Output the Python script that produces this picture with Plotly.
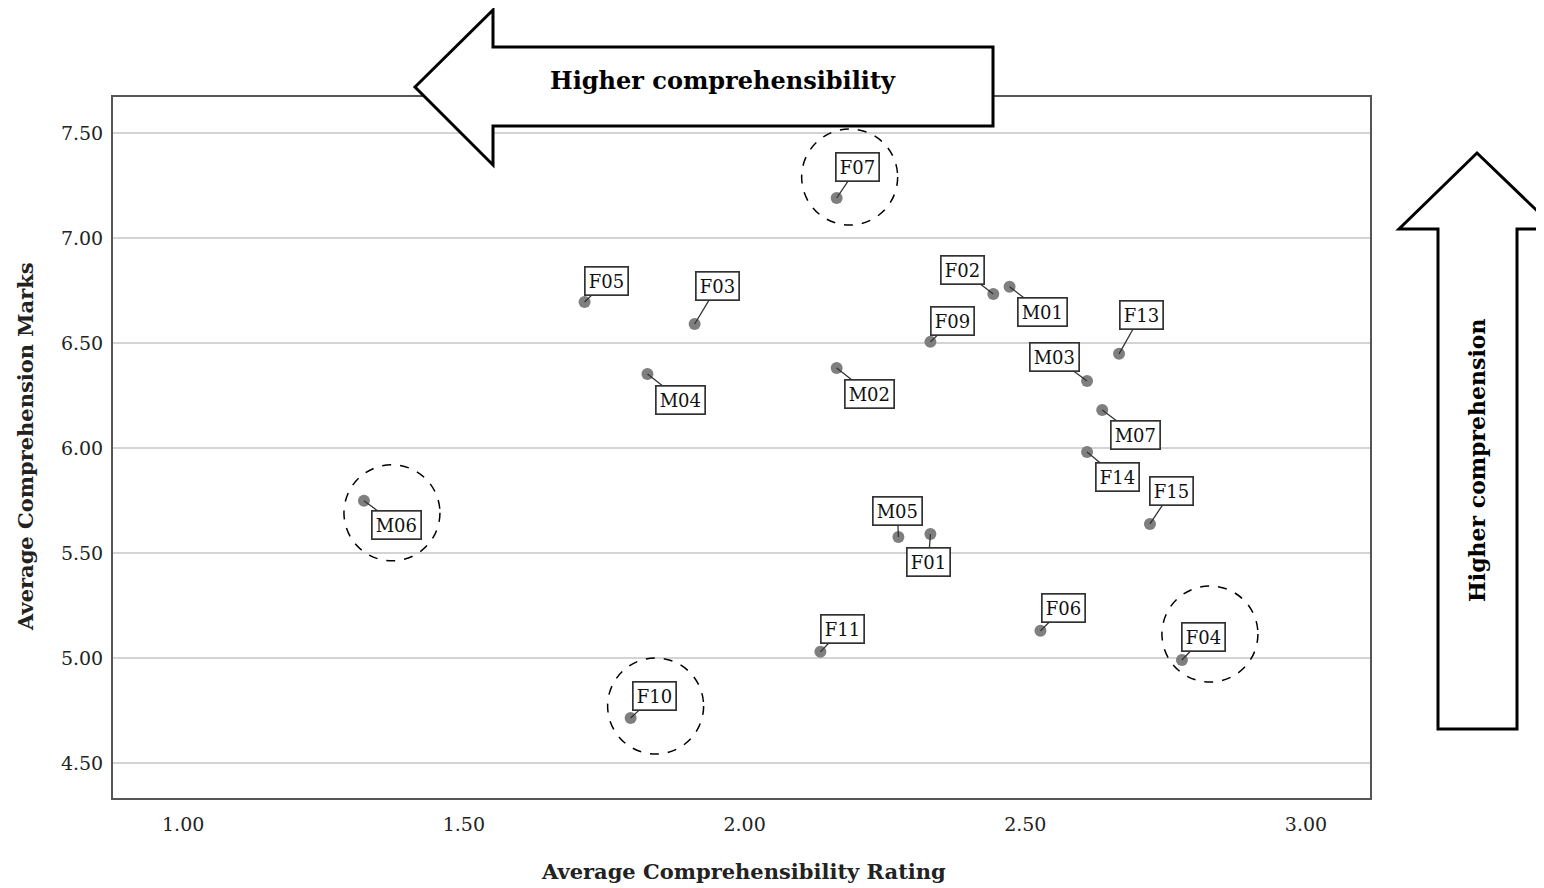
import plotly.graph_objects as go

# ---- data ----
participants = ["F07", "F05", "F03", "M04", "M02", "F09", "F02", "M01", "F13", "M03",
                "M07", "F14", "F15", "M06", "M05", "F01", "F06", "F04", "F11", "F10"]
rating = [2.164, 1.715, 1.911, 1.827, 2.164, 2.331, 2.443, 2.472, 2.667, 2.610,
          2.637, 2.610, 2.722, 1.322, 2.274, 2.331, 2.527, 2.779, 2.135, 1.797]
marks = [7.19, 6.695, 6.59, 6.352, 6.381, 6.505, 6.733, 6.767, 6.448, 6.319,
         6.181, 5.981, 5.638, 5.748, 5.576, 5.590, 5.129, 4.990, 5.029, 4.714]
x_ticks = [1.0, 1.5, 2.0, 2.5, 3.0]
y_ticks = [4.5, 5.0, 5.5, 6.0, 6.5, 7.0, 7.5]
highlighted = ["F07", "M06", "F10", "F04"]

# label offsets (pixels, screen coords: +x right, +y down)
label_off = {
    "F07": (21, -31), "F05": (22, -21), "F03": (23, -38), "M04": (33, 26),
    "M02": (33, 26), "F09": (22, -21), "F02": (-31, -24), "M01": (33, 25),
    "F13": (22, -39), "M03": (-33, -24), "M07": (33, 25), "F14": (30, 25),
    "F15": (22, -33), "M06": (33, 24), "M05": (-1, -26), "F01": (-2, 28),
    "F06": (23, -23), "F04": (22, -23), "F11": (22, -23), "F10": (24, -22),
}
# dashed circle centre offsets from point (pixels, screen coords)
circle_off = {"F07": (13, -21), "M06": (28, 12), "F10": (25, -12), "F04": (28, -26)}
R = 48

# the page body adds an 8px margin; compensate
OFF = 8
W, H = 1544 - OFF, 888 - OFF
L, RT, T, B = 113 - OFF, 1370 - OFF, 97 - OFF, 798 - OFF


def px(x):
    return (x - OFF - L) / (RT - L)


def py(y):
    return (B - (y - OFF)) / (B - T)


SERIF = "DejaVu Serif"

fig = go.Figure()
fig.add_trace(go.Scatter(
    x=rating, y=marks, mode="markers",
    marker=dict(size=12, color="#7f7f7f"),
    hoverinfo="text", text=participants, showlegend=False,
))

annotations = []
for name, xv, yv in zip(participants, rating, marks):
    ax, ay = label_off[name]
    annotations.append(dict(
        x=xv, y=yv, xref="x", yref="y", text=name, showarrow=True,
        ax=ax, ay=ay, arrowhead=0, arrowwidth=1.3, arrowcolor="#333333",
        bgcolor="white", bordercolor="#333333", borderwidth=1.7, borderpad=3,
        font=dict(family=SERIF, size=18, color="#111111"),
    ))

shapes = []
for name, xv, yv in zip(participants, rating, marks):
    if name in highlighted:
        dx, dy = circle_off[name]
        shapes.append(dict(
            type="circle", xref="x", yref="y", xsizemode="pixel", ysizemode="pixel",
            xanchor=xv, yanchor=yv, x0=dx - R, x1=dx + R, y0=-dy - R, y1=-dy + R,
            line=dict(color="black", width=1.5, dash="dash"),
        ))

# left arrow (higher comprehensibility)
la = [(415, 87), (493, 10), (493, 47), (993, 47), (993, 126), (493, 126), (493, 165)]
path = "M " + " L ".join(f"{px(a):.5f},{py(b):.5f}" for a, b in la) + " Z"
shapes.append(dict(type="path", xref="paper", yref="paper", path=path,
                   fillcolor="white", line=dict(color="black", width=3), layer="above"))
# up arrow (higher comprehension)
ua = [(1477, 153), (1556, 229), (1517, 229), (1517, 729), (1438, 729), (1438, 229), (1399, 229)]
path = "M " + " L ".join(f"{px(a):.5f},{py(b):.5f}" for a, b in ua) + " Z"
shapes.append(dict(type="path", xref="paper", yref="paper", path=path,
                   fillcolor="white", line=dict(color="black", width=3), layer="above"))

annotations += [
    dict(text="<b>Higher comprehensibility</b>", x=px(723), y=py(80), xref="paper", yref="paper",
         showarrow=False, font=dict(family=SERIF, size=24, color="black"),
         xanchor="center", yanchor="middle"),
    dict(text="<b>Higher comprehension</b>", x=px(1477), y=py(460), xref="paper", yref="paper",
         showarrow=False, textangle=-90, font=dict(family=SERIF, size=22, color="black"),
         xanchor="center", yanchor="middle"),
    dict(text="<b>Average Comprehensibility Rating</b>", x=px(743), y=py(871), xref="paper",
         yref="paper", showarrow=False, font=dict(family=SERIF, size=21, color="#222222"),
         xanchor="center", yanchor="middle"),
    dict(text="<b>Average Comprehension Marks</b>", x=px(25), y=py(447), xref="paper",
         yref="paper", showarrow=False, textangle=-90,
         font=dict(family=SERIF, size=21, color="#222222"), xanchor="center", yanchor="middle"),
]

fig.update_layout(
    width=W, height=H, margin=dict(l=L, r=W - RT, t=T, b=H - B),
    paper_bgcolor="white", plot_bgcolor="white",
    annotations=annotations, shapes=shapes,
    xaxis=dict(range=[0.875, 3.114], tickvals=x_ticks, tickformat=".2f", showgrid=False,
               zeroline=False, showline=True, mirror=True, linecolor="#555555", linewidth=2,
               ticks="", ticklabelstandoff=8,
               tickfont=dict(family=SERIF, size=19, color="#222222")),
    yaxis=dict(range=[4.333, 7.671], tickvals=y_ticks, tickformat=".2f", showgrid=True,
               gridcolor="#d4d4d4", gridwidth=1.5, zeroline=False, showline=True, mirror=True,
               linecolor="#555555", linewidth=2, ticks="", ticklabelstandoff=4,
               tickfont=dict(family=SERIF, size=19, color="#222222")),
)

fig.write_html("out.html")
